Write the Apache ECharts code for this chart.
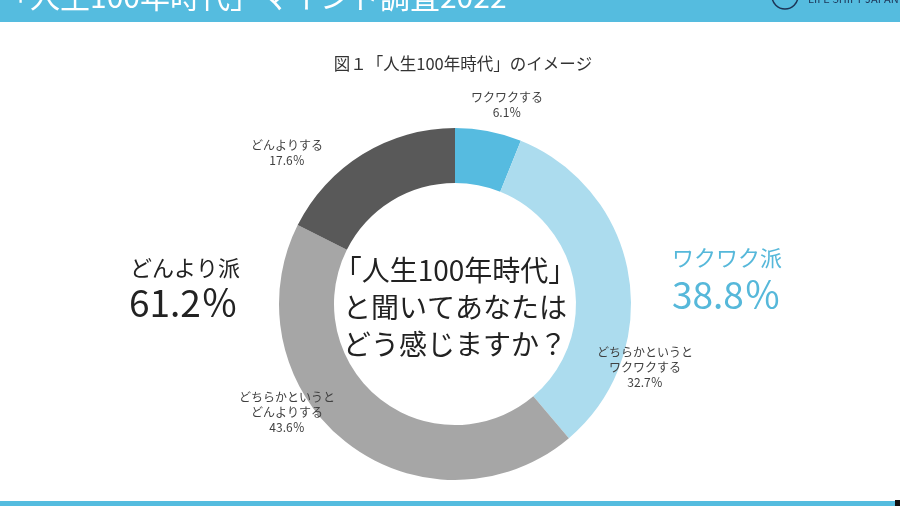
<!DOCTYPE html>
<html>
<head>
<meta charset="utf-8">
<script src="https://cdn.jsdelivr.net/npm/echarts@6/dist/echarts.min.js"></script>
<style>
  html, body { margin: 0; padding: 0; background: #fff; }
  #chart { width: 900px; height: 506px; }
</style>
</head>
<body>
<div id="chart"></div>
<script>
// data
var categories = ['ワクワクする', 'どちらかというと\nワクワクする', 'どちらかというと\nどんよりする', 'どんよりする'];
var values = [6.1, 32.7, 43.6, 17.6];
var groupNames = ['ワクワク派', 'どんより派'];
var groupValues = [38.8, 61.2];

var FONT = '"Noto Sans CJK JP", "Noto Sans", sans-serif';
var colors = ['#56bbe0', '#acdcee', '#a6a6a6', '#595959'];
var barColor = '#55bcdf';
// label centres for each slice
var labelPos = [[507, 105], [645, 367], [287, 412], [287, 153]];

var chart = echarts.init(document.getElementById('chart'));
chart.setOption({
    animation: false,
    backgroundColor: '#fff',
    title: {
        text: '図１「人生100年時代」のイメージ',
        left: 458,
        top: 50,
        textAlign: 'center',
        textStyle: { fontFamily: FONT, fontSize: 16.5, fontWeight: 'normal', color: '#333' }
    },
    series: [{
        type: 'pie',
        center: [455, 304],
        radius: [121, 176],
        startAngle: 90,
        clockwise: true,
        avoidLabelOverlap: false,
        itemStyle: { borderWidth: 0 },
        label: {
            show: true,
            position: 'outside',
            formatter: '{b}\n{c}％',
            fontFamily: FONT,
            fontSize: 12,
            lineHeight: 15,
            color: '#404040',
            align: 'center'
        },
        labelLine: { show: false },
        labelLayout: function (p) {
            var pos = labelPos[p.dataIndex];
            return { x: pos[0], y: pos[1], align: 'center', verticalAlign: 'middle' };
        },
        emphasis: { disabled: true },
        data: categories.map(function (name, i) {
            return { name: name, value: values[i], itemStyle: { color: colors[i] } };
        })
    }],
    graphic: [
        // header band
        { type: 'rect', shape: { x: 0, y: 0, width: 900, height: 22 }, style: { fill: barColor }, z: 1 },
        {
            type: 'text', x: 0, y: -3, z: 2,
            style: { text: '「人生100年時代」マインド調査2022', fill: '#fff', font: '30px ' + FONT, verticalAlign: 'middle' }
        },
        { type: 'circle', shape: { cx: 785, cy: -4, r: 13 }, style: { fill: 'none', stroke: '#1d3557', lineWidth: 1.5 }, z: 2 },
        {
            type: 'text', x: 808, y: -1, z: 2,
            style: { text: 'LIFE SHIFT JAPAN', fill: '#1d3557', font: '11px ' + FONT, verticalAlign: 'middle' }
        },
        // footer band
        { type: 'rect', shape: { x: 0, y: 501, width: 900, height: 5 }, style: { fill: barColor }, z: 1 },
        { type: 'rect', shape: { x: 895, y: 500, width: 5, height: 6 }, style: { fill: '#111' }, z: 2 },
        // centre question
        {
            type: 'text', x: 455, y: 307, z: 3,
            style: {
                text: '「人生100年時代」\nと聞いてあなたは\nどう感じますか？',
                fill: '#222', font: '28px ' + FONT, lineHeight: 37,
                align: 'center', verticalAlign: 'middle'
            }
        },
        // group totals
        {
            type: 'text', x: 130, y: 268, z: 3,
            style: { text: groupNames[1], fill: '#222', font: '22px ' + FONT, verticalAlign: 'middle' }
        },
        {
            type: 'text', x: 129, y: 303, z: 3,
            style: { text: groupValues[1].toFixed(1) + '％', fill: '#222', font: '37px ' + FONT, verticalAlign: 'middle' }
        },
        {
            type: 'text', x: 672, y: 258, z: 3,
            style: { text: groupNames[0], fill: '#56b8da', font: '22px ' + FONT, verticalAlign: 'middle' }
        },
        {
            type: 'text', x: 672, y: 295, z: 3,
            style: { text: groupValues[0].toFixed(1) + '％', fill: '#56b8da', font: '37px ' + FONT, verticalAlign: 'middle' }
        }
    ]
});
</script>
</body>
</html>
